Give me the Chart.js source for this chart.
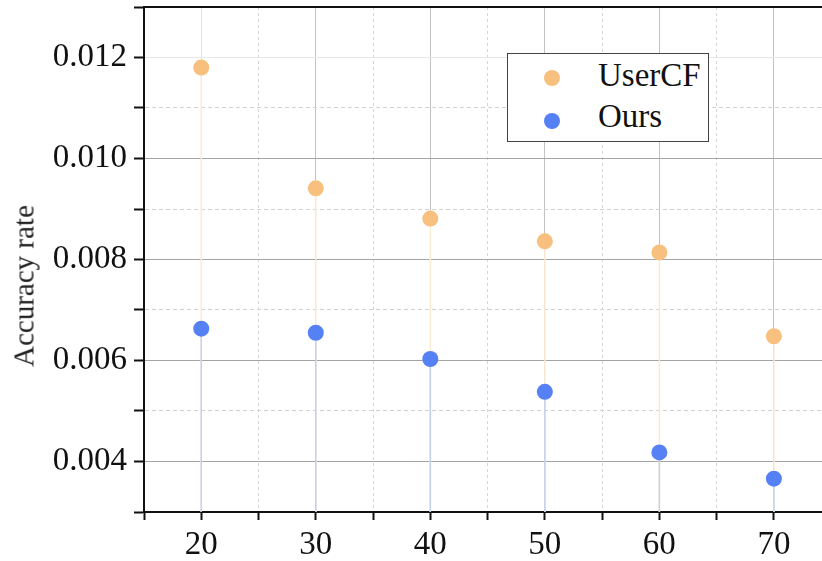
<!DOCTYPE html>
<html>
<head>
<meta charset="utf-8">
<script src="https://cdn.jsdelivr.net/npm/chart.js@4/dist/chart.umd.min.js"></script>
<style>
    body{margin:0;background:#fff;}
    #wrap{position:relative;width:822px;height:561px;}
    #legend{position:absolute;left:507px;top:53px;width:200px;height:87px;background:#fff;border:1px solid #444;font-family:"Liberation Serif","Times New Roman",serif;font-size:33px;color:#111;}
    #legend .row{position:absolute;left:0;height:33px;line-height:33px;}
    #legend .dot{position:absolute;left:36px;width:16px;height:16px;border-radius:50%;}
    #legend .txt{position:absolute;left:90px;top:0;white-space:nowrap;}
    #ytitle{position:absolute;left:24px;top:286px;transform:translate(-50%,-50%) rotate(-90deg);font-family:"Liberation Serif","Times New Roman",serif;font-size:29px;line-height:29px;color:#222;white-space:nowrap;}
</style>
</head>
<body>
<div id="wrap">
    <canvas id="graph" width="822" height="561"></canvas>
    <div id="ytitle">Accuracy rate</div>
    <div id="legend"></div>
</div>
<script>
// x positions (parameter values)
const xValues=[20,30,40,50,60,70];
// accuracy rate per method
const userCF=[0.0118,0.00941,0.00881,0.00836,0.00814,0.00648];
const ours=[0.00663,0.00655,0.00603,0.00538,0.00418,0.00366];

const seriesNames=["UserCF","Ours"];
const seriesColors=["#F7C07E","#5681F4"];
const dropColors=["#FBEBD3","#C3D1EA"];

const xMin=15, xMax=74.2, xStep=5;
const yMin=0.003, yMax=0.013, yStep=0.001;

const serif="'Liberation Serif','Times New Roman',serif";

// one thin vertical line per point, from the axis up to the value
function dropLines(values,color,order){
    return values.map((v,i)=>({
        type:"line",
        data:[{x:xValues[i],y:yMin},{x:xValues[i],y:v}],
        borderColor:color,
        borderWidth:1.5,
        pointRadius:0,
        order:order
    }));
}

function points(values){
    return values.map((v,i)=>({x:xValues[i],y:v}));
}

// ticks every step from min up to (not past) max
function stepTicks(min,max,step){
    const t=[];
    const n=Math.floor((max-min)/step+1e-6);
    for(let i=0;i<=n;i++) t.push({value:+(min+i*step).toFixed(6)});
    return t;
}

const datasets=[
    {label:seriesNames[0],data:points(userCF),backgroundColor:seriesColors[0],borderWidth:0,pointRadius:8,order:0},
    {label:seriesNames[1],data:points(ours),backgroundColor:seriesColors[1],borderWidth:0,pointRadius:8,order:0},
    ...dropLines(ours,dropColors[1],1),
    ...dropLines(userCF,dropColors[0],2)
];

const isMajorX=(v)=>Math.abs(v%10)<1e-6;
const isMajorY=(v)=>Math.abs(Math.round(v*1000)%2)===0;

new Chart("graph",{
    type:"scatter",
    data:{datasets},
    options:{
        responsive:false,
        animation:false,
        layout:{padding:0,autoPadding:false},
        plugins:{legend:{display:false},tooltip:{enabled:false}},
        scales:{
            x:{
                type:"linear",
                position:"bottom",
                min:xMin,
                max:xMax,
                afterBuildTicks:(s)=>{s.ticks=stepTicks(xMin,xMax,xStep);},
                afterFit:(s)=>{s.height=49;s.paddingLeft=0;s.paddingRight=0;},
                ticks:{
                    autoSkip:false,
                    maxRotation:0,
                    padding:6,
                    color:"#111",
                    font:{family:serif,size:33},
                    callback:(v)=>isMajorX(v)?String(v):""
                },
                grid:{
                    tickLength:8,
                    tickWidth:2,
                    tickColor:"#111",
                    lineWidth:1,
                    color:(c)=>{
                        if(!c.tick) return "#ccc";
                        if(!isMajorX(c.tick.value)) return "#d6d6d6";
                        return c.tick.value===20?"#e4e4e4":"#c2c2c2";
                    }
                },
                border:{
                    color:"#111",
                    width:2,
                    dash:(c)=>(c.tick&&!isMajorX(c.tick.value))?[3,3]:[]
                }
            },
            xTop:{
                type:"linear",
                position:"top",
                min:xMin,
                max:xMax,
                afterFit:(s)=>{s.height=7;s.paddingLeft=0;s.paddingRight=0;},
                ticks:{display:false},
                grid:{display:false,drawTicks:false},
                border:{display:true,color:"#111",width:2}
            },
            y:{
                type:"linear",
                min:yMin,
                max:yMax,
                afterBuildTicks:(s)=>{s.ticks=stepTicks(yMin,yMax,yStep);},
                afterFit:(s)=>{s.width=144;s.paddingTop=0;s.paddingBottom=0;},
                ticks:{
                    autoSkip:false,
                    padding:7,
                    color:"#111",
                    font:{family:serif,size:33},
                    callback:(v)=>isMajorY(v)?v.toFixed(3):""
                },
                grid:{
                    tickLength:10,
                    tickWidth:2,
                    tickColor:"#111",
                    lineWidth:1,
                    color:(c)=>{
                        if(!c.tick) return "#ccc";
                        const v=c.tick.value;
                        if(!isMajorY(v)) return "#d2d2d2";
                        return Math.abs(v-0.012)<1e-6?"#e6e6e6":"#a4a4a4";
                    }
                },
                border:{
                    color:"#111",
                    width:2,
                    dash:(c)=>(c.tick&&!isMajorY(c.tick.value))?[4,3]:[]
                }
            }
        }
    }
});

// legend box in the upper right of the plot
const legend=document.getElementById("legend");
const rowTops=[5,46];
const dotTops=[11,13];
seriesNames.forEach((name,i)=>{
    const row=document.createElement("div");
    row.className="row";
    row.style.top=rowTops[i]+"px";
    row.innerHTML=`<span class="dot" style="background:${seriesColors[i]};top:${dotTops[i]}px"></span><span class="txt">${name}</span>`;
    legend.appendChild(row);
});
</script>
</body>
</html>
